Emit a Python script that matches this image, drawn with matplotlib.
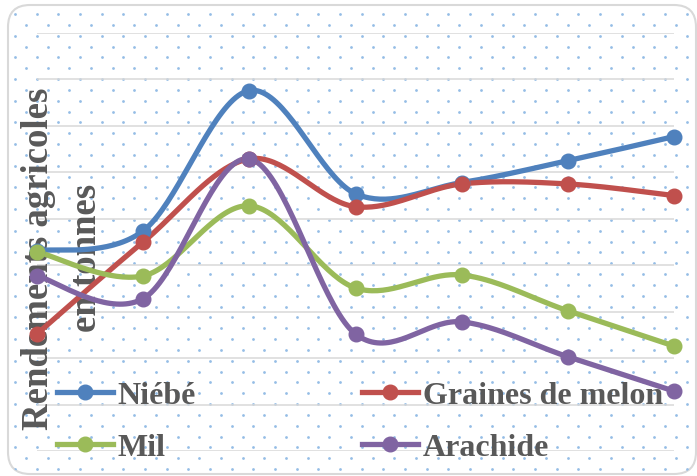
import numpy as np
import matplotlib
matplotlib.use("Agg")
import matplotlib.pyplot as plt
from matplotlib.lines import Line2D
from matplotlib.patches import FancyBboxPatch

# data (grid units, no tick labels shown)
periodes = np.arange(7)
niebe = [4.31, 4.74, 7.76, 5.54, 5.78, 6.25, 6.77]
graines_melon = [2.52, 4.50, 6.29, 5.26, 5.75, 5.75, 5.50]
mil = [4.29, 3.77, 5.28, 3.51, 3.79, 3.02, 2.26]
arachide = [3.77, 3.28, 6.29, 2.52, 2.78, 2.03, 1.29]

series = [
    ("Niébé", niebe, "#4F81BD"),
    ("Graines de melon", graines_melon, "#C0504D"),
    ("Mil", mil, "#9BBB59"),
    ("Arachide", arachide, "#8064A2"),
]

W, H = 697, 477
txt_color = "#595959"
serif = "Liberation Serif"


def smooth(x, y, n=40):
    # bezier smoothing like the office "smoothed line" option
    pts = np.column_stack([x, y]).astype(float)
    P = np.vstack([pts[0], pts, pts[-1]])
    out = []
    t = np.linspace(0, 1, n)[:, None]
    for i in range(len(pts) - 1):
        p0, p1, p2, p3 = P[i], P[i + 1], P[i + 2], P[i + 3]
        c1 = p1 + (p2 - p0) / 6
        c2 = p2 - (p3 - p1) / 6
        seg = (1 - t)**3 * p1 + 3 * (1 - t)**2 * t * c1 + 3 * (1 - t) * t**2 * c2 + t**3 * p2
        out.append(seg if i == 0 else seg[1:])
    out = np.vstack(out)
    return out[:, 0], out[:, 1]


fig = plt.figure(figsize=(W / 100, H / 100), dpi=100)
fig.patch.set_facecolor("white")

# background: rounded frame with dotted pattern
bg = fig.add_axes([0, 0, 1, 1], zorder=-1)
bg.set_xlim(0, W)
bg.set_ylim(H, 0)
bg.axis("off")
frame = FancyBboxPatch((8, 6), W - 9, H - 8, boxstyle="round,pad=0,rounding_size=22",
                       facecolor="white", edgecolor="#D9D9D9", linewidth=1.5)
bg.add_patch(frame)
step = 21.67
dx, dy = [], []
for r, yy in enumerate(np.arange(15, H, step / 2)):
    x0 = 15 if r % 2 == 0 else 15 + step / 2
    for xx in np.arange(x0, W, step):
        dx.append(xx)
        dy.append(yy)
dots = bg.scatter(dx, dy, s=4, color="#95BDE6", linewidths=0)
dots.set_clip_path(frame)

# main plot
ax = fig.add_axes([37 / W, (H - 452) / H, (674 - 37) / W, (452 - 34) / H])
ax.patch.set_alpha(0)
ax.set_xlim(0, 6)
ax.set_ylim(0, 9)
ax.set_yticks(np.arange(0, 10))
ax.set_xticks([])
ax.tick_params(left=False, labelleft=False)
for s in ax.spines.values():
    s.set_visible(False)
ax.grid(axis="y", color="#D9D9D9", linewidth=1.1)
ax.set_axisbelow(True)

handles = []
for name, vals, col in series:
    sx, sy = smooth(periodes, vals)
    ax.plot(sx, sy, color=col, lw=3.8, solid_capstyle="round", zorder=3, clip_on=False)
    ax.plot(periodes, vals, "o", color=col, ms=10.5, zorder=4, clip_on=False)
    handles.append(Line2D([], [], color=col, lw=3.8, marker="o", ms=10.5, label=name))

# axis title sits inside the plot area, under the lines
ax.text(39 / W, (H - 259) / H, "Rendements agricoles", transform=fig.transFigure,
        rotation=90, ha="center", va="center", fontsize=26.5, fontweight="bold",
        family=serif, color=txt_color, zorder=2)
ax.text(86 / W, (H - 258) / H, "en tonnes", transform=fig.transFigure,
        rotation=90, ha="center", va="center", fontsize=26.5, fontweight="bold",
        family=serif, color=txt_color, zorder=2)

leg = ax.legend(handles=[handles[0], handles[2], handles[1], handles[3]], ncol=2,
                loc="upper left", bbox_to_anchor=(41 / W, (H - 366) / H),
                bbox_transform=fig.transFigure, frameon=False, borderpad=0,
                handlelength=1.75, handletextpad=0.15, columnspacing=5.2,
                labelspacing=0.7, prop={"family": serif, "weight": "bold", "size": 23})
leg.set_zorder(5)
for t in leg.get_texts():
    t.set_color(txt_color)

fig.savefig("out.png", dpi=100)
